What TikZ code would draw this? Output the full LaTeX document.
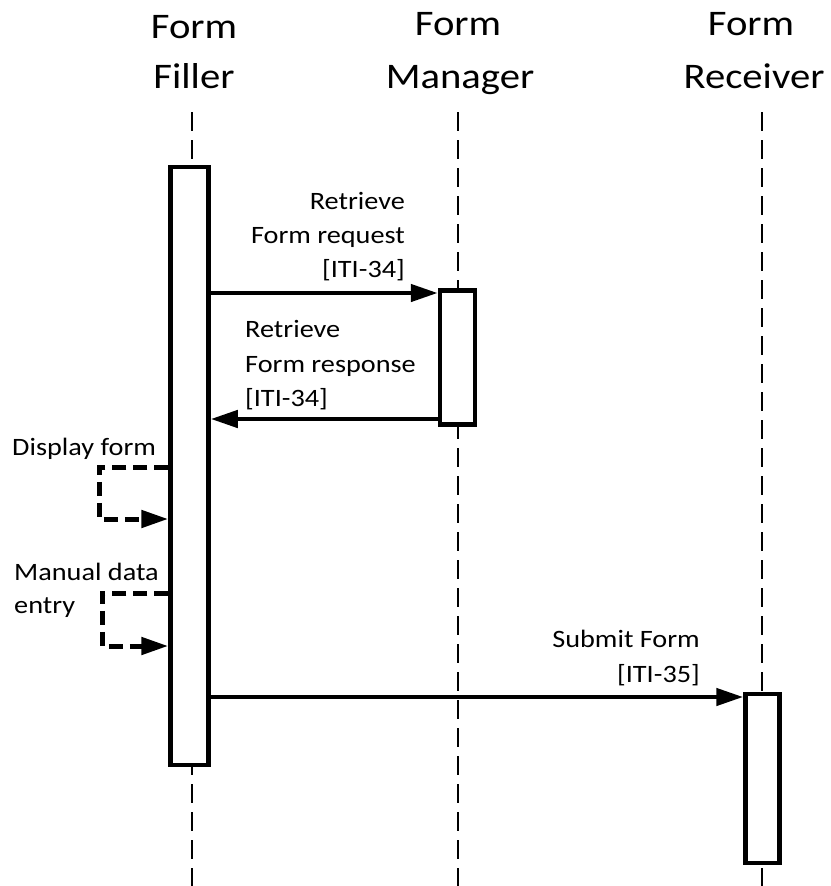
\documentclass[tikz,border=0pt]{standalone}
\usepackage{fontspec}
\setmainfont{Carlito}[FakeStretch=1.13]
\usetikzlibrary{arrows.meta}
\begin{document}
\begin{tikzpicture}[x=1pt,y=-1pt,
  head/.style={font=\fontsize{36}{40}\selectfont, inner sep=0pt, anchor=base},
  lbl/.style={font=\fontsize{25}{30}\selectfont, inner sep=0pt},
  life/.style={line width=2.5pt, dash pattern=on 19pt off 9pt},
  act/.style={draw, line width=4.5pt, fill=white, inner sep=0pt, anchor=north, rectangle},
  msg/.style={line width=4.5pt, -{Triangle[length=27pt,width=17pt]}},
  selfmsg/.style={line width=5pt, dash pattern=on 14pt off 7pt, line join=miter, -{Triangle[length=27pt,width=17pt]}}
]
\useasboundingbox (0,0) rectangle (830,886);
\fill[white] (0,0) rectangle (830,886);

% headers
\node[head] (h1a) at (194,38) {Form};
\node[head] (h1b) at (194,88) {Filler};
\node[head] (h2a) at (458,35) {Form};
\node[head] (h2b) at (460,88) {Manager};
\node[head] (h3a) at (751,35) {Form};
\node[head] (h3b) at (754,88) {Receiver};

% lifelines
\coordinate (l1t) at (192,112); \coordinate (l1b) at (192,886);
\coordinate (l2t) at (458,112); \coordinate (l2b) at (458,886);
\coordinate (l3t) at (762,112); \coordinate (l3b) at (762,886);
\draw[life] (l1t) -- (l1b);
\draw[life] (l2t) -- (l2b);
\draw[life] (l3t) -- (l3b);

% activation boxes
\node[act, minimum width=38pt, minimum height=598pt] (filler) at (189.5,164.5) {};
\node[act, minimum width=35pt, minimum height=134pt] (mgr) at (457.5,288) {};
\node[act, minimum width=34pt, minimum height=169pt] (rcv) at (762.5,691.5) {};

% message y levels
\coordinate (y1) at (0,293);
\coordinate (y2) at (0,419);
\coordinate (y3) at (0,697);
\coordinate (d1) at (0,467);
\coordinate (d2) at (0,519);
\coordinate (e1) at (0,593);
\coordinate (e2) at (0,646);
\coordinate (dl) at (99,0);
\coordinate (el) at (102,0);

% messages
\draw[msg] (filler.east |- y1) -- (mgr.west |- y1);
\draw[msg] (mgr.west |- y2) -- (filler.east |- y2);
\draw[msg] (filler.east |- y3) -- (rcv.west |- y3);

% self messages
\draw[selfmsg] (filler.west |- d1) -- (dl |- d1) -- (dl |- d2) -- (filler.west |- d2);
\draw[selfmsg] (filler.west |- e1) -- (el |- e1) -- (el |- e2) -- (filler.west |- e2);

% labels
\node[lbl, anchor=base east] (rq1) at (405,209) {Retrieve};
\node[lbl, anchor=base east] (rq2) at (405,243) {Form request};
\node[lbl, anchor=base east] (rq3) at (405,277) {[ITI-34]};
\node[lbl, anchor=base west] (rs1) at (245,337) {Retrieve};
\node[lbl, anchor=base west] (rs2) at (245,372) {Form response};
\node[lbl, anchor=base west] (rs3) at (245,406) {[ITI-34]};
\node[lbl, anchor=base west] (df) at (12,455) {Display form};
\node[lbl, anchor=base west] (md1) at (14,580) {Manual data};
\node[lbl, anchor=base west] (md2) at (14,613) {entry};
\node[lbl, anchor=base east] (sf1) at (700,647) {Submit Form};
\node[lbl, anchor=base east] (sf2) at (700,682) {[ITI-35]};
\end{tikzpicture}
\end{document}
